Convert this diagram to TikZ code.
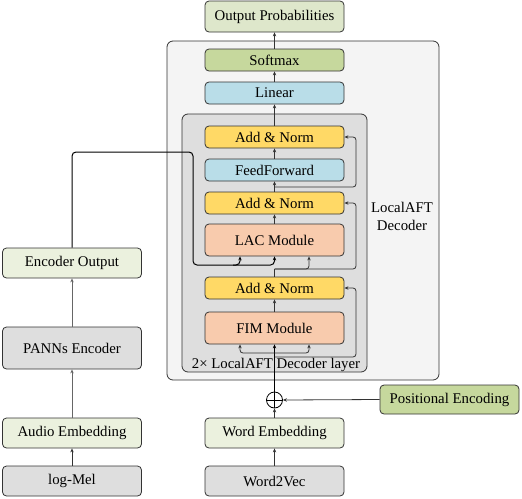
\documentclass[tikz,border=0pt]{standalone}
\usepackage{fontspec}
\setmainfont{Liberation Serif}
\usetikzlibrary{arrows.meta,positioning,calc}
\definecolor{cOut}{HTML}{DEE7CB}
\definecolor{cLight}{HTML}{EBF1DE}
\definecolor{cOlive}{HTML}{C6D89D}
\definecolor{cBlue}{HTML}{B9DDE8}
\definecolor{cYellow}{HTML}{FFD966}
\definecolor{cPeach}{HTML}{F8CBAD}
\definecolor{cGray}{HTML}{DEDEDE}
\definecolor{cOuter}{HTML}{F4F4F4}
\definecolor{cLine}{HTML}{333333}
\tikzset{
  blk/.style={draw=cLine, line width=0.8pt, rounded corners=4pt, minimum width=139pt, inner sep=0pt, font=\fontsize{14.8}{17}\selectfont},
  thin blk/.style={blk, minimum height=22pt},
  tall blk/.style={blk, minimum height=31pt},
  conn/.style={draw=cLine, line width=0.8pt, -{Stealth[length=4pt,width=3.4pt]}},
  thickconn/.style={draw=black, line width=1.3pt, -{Stealth[length=4pt,width=3.4pt]}},
  encconn/.style={draw=black, line width=1pt, -{Stealth[length=4pt,width=3.4pt]}},
  resid/.style={draw=cLine, line width=0.8pt, rounded corners=3pt, -{Stealth[length=4pt,width=3.4pt]}},
  lbl/.style={font=\fontsize{14.8}{18}\selectfont, align=center, inner sep=0pt}
}
\begin{document}
\begin{tikzpicture}[x=1pt,y=-1pt]
\useasboundingbox (0,0) rectangle (522,498);
% containers
\draw[draw=cLine, line width=0.8pt, fill=cOuter, rounded corners=6pt] (167,41) rectangle (439,380);
\draw[draw=cLine, line width=0.8pt, fill=cGray, rounded corners=6pt] (182,114) rectangle (367,372);
\node[lbl] (declbl) at (402,216) {LocalAFT\\Decoder};
% decoder column
\node[tall blk, fill=cOut] (outp) at (274.5,16.5) {Output Probabilities};
\node[thin blk, fill=cOlive] (soft) at (274.5,60) {Softmax};
\node[thin blk, fill=cBlue] (lin) at (274.5,93) {Linear};
\node[thin blk, fill=cYellow] (an1) at (274.5,137) {Add \& Norm};
\node[thin blk, fill=cBlue] (ff) at (274.5,170) {FeedForward};
\node[thin blk, fill=cYellow] (an2) at (274.5,203) {Add \& Norm};
\node[blk, minimum height=32pt, fill=cPeach] (lac) at (274.5,240) {LAC Module};
\node[thin blk, fill=cYellow] (an3) at (274.5,288) {Add \& Norm};
\node[blk, minimum height=32pt, fill=cPeach] (fim) at (274.5,328) {FIM Module};
\node[lbl] (laylbl) at (276,365) {2× LocalAFT Decoder layer};
\node[draw=black, line width=0.8pt, circle, minimum size=16pt, inner sep=0pt] (plus) at (274.5,400) {};
\node[blk, minimum height=30pt, fill=cLight] (wemb) at (274.5,433) {Word Embedding};
\node[blk, minimum height=30pt, fill=cGray] (w2v) at (274.5,481) {Word2Vec};
\node[blk, minimum height=29pt, fill=cOlive] (pos) at (449.5,399.5) {Positional Encoding};
% encoder column
\node[blk, minimum height=30pt, fill=cLight] (eout) at (72,263) {Encoder Output};
\node[blk, minimum height=42pt, fill=cGray] (panns) at (72,348) {PANNs Encoder};
\node[blk, minimum height=30pt, fill=cLight] (aemb) at (72,433) {Audio Embedding};
\node[blk, minimum height=30pt, fill=cGray] (mel) at (72,481) {log-Mel};
% coordinates
\coordinate (fimsplit) at (274.5,353);
\coordinate (res3) at (274.5,357);
\coordinate (res2) at (274.5,269);
\coordinate (res1) at (274.5,187);
\coordinate (encturn) at (193,152);
\coordinate (encdown) at (193,265);
% plus sign
\draw[black, line width=0.8pt] (plus.west) -- (plus.east);
\draw[black, line width=0.8pt] (plus.south) -- (plus.north);
% connectors
\draw[thickconn] (plus.north) -- (fim.south);
\draw[conn, rounded corners=3pt] (fimsplit) -| ($(fim.south)+(-34.5,0)$);
\draw[conn, rounded corners=3pt] (fimsplit) -| ($(fim.south)+(34.5,0)$);
\draw[resid] (res3) -| (356,288) -- (an3.east);
\draw[conn] (fim.north) -- (an3.south);
\draw[draw=cLine, line width=0.8pt, rounded corners=3pt] (an3.north) -- (res2);
\draw[resid] (res2) -| ($(lac.south)+(34.5,0)$);
\draw[resid] (res2) -| (356,203) -- (an2.east);
\draw[encconn, rounded corners=4pt] (eout.north) |- (encturn) -- (encdown) -| ($(lac.south)+(-34.5,0)$);
\draw[encconn, rounded corners=4pt] ($(encdown)+(40,0)$) -| (lac.south);
\draw[conn] (lac.north) -- (an2.south);
\draw[conn] (an2.north) -- (ff.south);
\draw[resid] (res1) -| (356,137) -- (an1.east);
\draw[conn] (ff.north) -- (an1.south);
\draw[conn] (an1.north) -- (lin.south);
\draw[conn] (lin.north) -- (soft.south);
\draw[conn] (soft.north) -- (outp.south);
\draw[conn] (pos.west) -- (plus.east);
\draw[conn] (wemb.north) -- (plus.south);
\draw[conn] (w2v.north) -- (wemb.south);
\draw[conn] (mel.north) -- (aemb.south);
\draw[conn, draw=gray!80!black] (aemb.north) -- (panns.south);
\draw[conn, draw=gray!80!black] (panns.north) -- (eout.south);
\end{tikzpicture}
\end{document}
